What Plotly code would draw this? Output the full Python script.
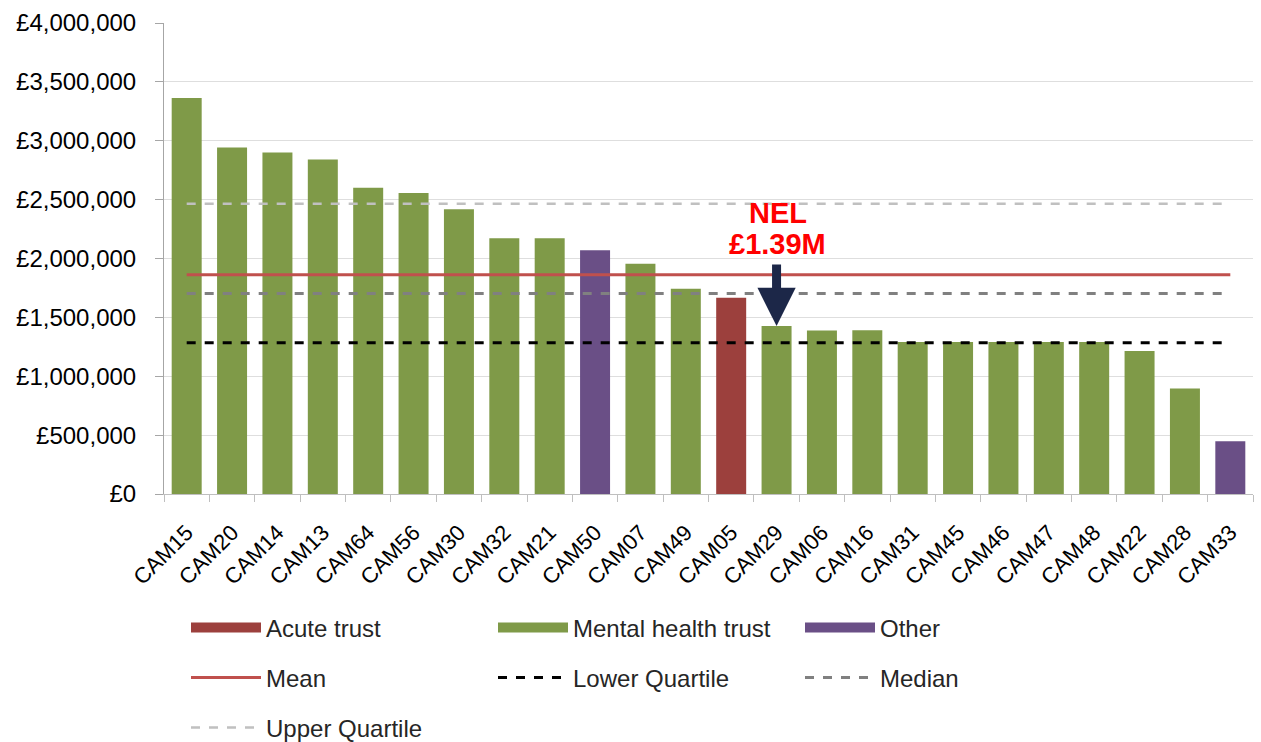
import plotly.graph_objects as go

categories = ["CAM15", "CAM20", "CAM14", "CAM13", "CAM64", "CAM56", "CAM30", "CAM32",
              "CAM21", "CAM50", "CAM07", "CAM49", "CAM05", "CAM29", "CAM06", "CAM16",
              "CAM31", "CAM45", "CAM46", "CAM47", "CAM48", "CAM22", "CAM28", "CAM33"]
values = [3363000, 2942000, 2900000, 2841000, 2600000, 2557000, 2419000, 2173000,
          2173000, 2071000, 1955000, 1743000, 1666000, 1426000, 1389000, 1390000,
          1290000, 1290000, 1290000, 1290000, 1290000, 1214000, 897000, 447000]
trust_type = ["Mental health trust"] * 9 + ["Other", "Mental health trust", "Mental health trust",
              "Acute trust"] + ["Mental health trust"] * 10 + ["Other"]

mean_value = 1861000
lower_quartile = 1284000
median_value = 1703000
upper_quartile = 2464000

highlight_category = "CAM29"
highlight_lines = ["NEL", "£1.39M"]

y_ticks = [0, 500000, 1000000, 1500000, 2000000, 2500000, 3000000, 3500000, 4000000]
y_tick_labels = ["£0", "£500,000", "£1,000,000", "£1,500,000", "£2,000,000",
                 "£2,500,000", "£3,000,000", "£3,500,000", "£4,000,000"]

bar_colors = {"Acute trust": "#9c403d", "Mental health trust": "#7f9a48", "Other": "#6a4f86"}
FONT = "Liberation Sans"
TXT = "#262626"

fig = go.Figure()

for name in ["Acute trust", "Mental health trust", "Other"]:
    xs = [c for c, t in zip(categories, trust_type) if t == name]
    ys = [v for v, t in zip(values, trust_type) if t == name]
    fig.add_trace(go.Bar(x=xs, y=ys, name=name, marker_color=bar_colors[name],
                         marker_line_width=0, legendgroup=name, showlegend=False))
    # legend swatch (wide rectangle, like the original)
    fig.add_trace(go.Scatter(x=[None], y=[None], mode="lines", name=name,
                             line=dict(color=bar_colors[name], width=14),
                             legendgroup=name, legend="legend", hoverinfo="skip"))

line_specs = [
    ("Mean", mean_value, dict(color="#c0504d", width=3, dash="solid"), "legend2"),
    ("Lower Quartile", lower_quartile, dict(color="#000000", width=3, dash="dash"), "legend2"),
    ("Median", median_value, dict(color="#808080", width=3, dash="dash"), "legend2"),
    ("Upper Quartile", upper_quartile, dict(color="#c0c0c0", width=2.5, dash="dash"), "legend3"),
]
for name, val, line, lg in line_specs:
    fig.add_trace(go.Scatter(x=[categories[0], categories[-1]], y=[val, val], mode="lines",
                             name=name, line=line, legend=lg))

hi_idx = categories.index(highlight_category)
hi_val = values[hi_idx]
fig.add_annotation(x=highlight_category, y=hi_val, xref="x", yref="y", text="",
                   showarrow=True, arrowhead=2, arrowsize=0.85, arrowwidth=9,
                   arrowcolor="#1c2748", ax=0, ay=-63, standoff=0)
for txt, shift in zip(highlight_lines, [113, 82]):
    fig.add_annotation(x=highlight_category, y=hi_val, xref="x", yref="y", text=txt,
                       showarrow=False, yshift=shift, xshift=1, yanchor="middle",
                       font=dict(family=FONT, size=29, color="#ff0000", weight="bold"))

legend_common = dict(orientation="h", xref="container", yref="container", xanchor="left",
                     yanchor="middle", entrywidth=222, entrywidthmode="pixels",
                     font=dict(family=FONT, size=24, color=TXT), bgcolor="rgba(0,0,0,0)",
                     itemwidth=70, traceorder="normal", itemclick="toggle")

fig.update_layout(
    width=1261, height=742,
    margin=dict(l=164, r=8, t=23, b=248, autoexpand=False),
    paper_bgcolor="white", plot_bgcolor="white",
    barmode="overlay", bargap=0.339,
    showlegend=True,
    legend=dict(x=186 / 1261, y=1 - 628 / 742, **legend_common),
    legend2=dict(x=186 / 1261, y=1 - 678 / 742, **legend_common),
    legend3=dict(x=186 / 1261, y=1 - 728 / 742, **legend_common),
    font=dict(family=FONT, color=TXT),
)

fig.update_xaxes(type="category", categoryorder="array", categoryarray=categories,
                 tickangle=-45, tickfont=dict(family=FONT, size=22, color="#000000"),
                 showline=True, linecolor="#bfbfbf", linewidth=1,
                 ticks="outside", tickson="boundaries", ticklen=7, tickcolor="#bfbfbf",
                 ticklabelstandoff=16,
                 showgrid=False, range=[-0.5, len(categories) - 0.5])
fig.update_yaxes(range=[0, 4000000], tickmode="array", tickvals=y_ticks, ticktext=y_tick_labels,
                 tickfont=dict(family=FONT, size=24, color="#000000"),
                 showgrid=True, gridcolor="#dedede", gridwidth=1,
                 showline=True, linecolor="#a6a6a6", linewidth=1,
                 ticks="outside", ticklen=8, tickcolor="#a6a6a6", ticklabelstandoff=14,
                 zeroline=False)

fig.write_html("out.html", config={"displayModeBar": False},
               post_script="document.body.style.margin='0';")
